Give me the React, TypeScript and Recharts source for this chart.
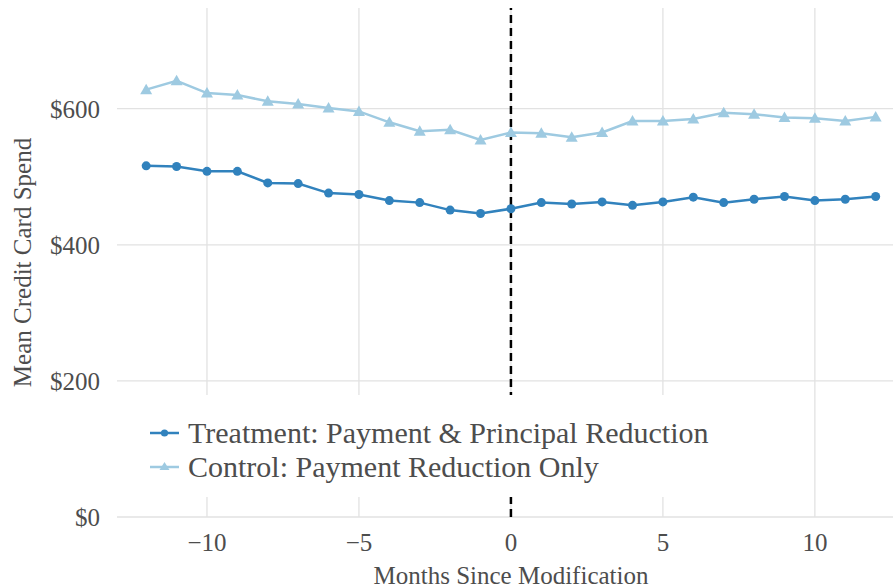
import { LineChart, Line, XAxis, YAxis, CartesianGrid, ReferenceLine, Legend } from 'recharts';

const months = [-12, -11, -10, -9, -8, -7, -6, -5, -4, -3, -2, -1, 0, 1, 2, 3, 4, 5, 6, 7, 8, 9, 10, 11, 12];
const treatment = [516, 515, 508, 508, 491, 490, 476, 474, 465, 462, 451, 446, 453, 462, 460, 463, 458, 463, 470, 462, 467, 471, 465, 467, 471];
const control = [628, 641, 623, 620, 611, 607, 601, 596, 580, 567, 569, 554, 565, 564, 558, 565, 582, 582, 585, 594, 592, 587, 586, 582, 588];
const xTicks = [-10, -5, 0, 5, 10];
const yTicks = [0, 200, 400, 600];
const seriesNames = ['Treatment: Payment & Principal Reduction', 'Control: Payment Reduction Only'];

const TREAT = '#3182bd';
const CTRL = '#9ecae1';
const TEXT = '#4d4d4d';
const FONT = '"Liberation Serif", "DejaVu Serif", serif';

const data = months.map((m, i) => ({ month: m, treatment: treatment[i], control: control[i] }));

const Triangle = (props: any) => {
  const { cx, cy, index } = props;
  if (cx == null || cy == null) return null;
  return (
    <polygon
      key={`tri-${index}`}
      points={`${cx},${cy - 6} ${cx - 6},${cy + 4.5} ${cx + 6},${cy + 4.5}`}
      fill={CTRL}
    />
  );
};

function LegendBox() {
  const rows = [
    { name: seriesNames[0], color: TREAT, shape: 'circle' },
    { name: seriesNames[1], color: CTRL, shape: 'triangle' }
  ];
  return (
    <div style={{ padding: '21px 0 0 22px', fontFamily: FONT }}>
      {rows.map(r => (
        <div key={r.name} style={{ display: 'flex', alignItems: 'center', height: 34 }}>
          <svg width={38} height={20} style={{ flex: 'none' }}>
            <line x1={0} y1={10} x2={29} y2={10} stroke={r.color} strokeWidth={2.5} />
            {r.shape === 'circle'
              ? <circle cx={14.5} cy={10} r={3.6} fill={r.color} />
              : <polygon points="14.5,5 9.5,13 19.5,13" fill={r.color} />}
          </svg>
          <span style={{ fontSize: 30, color: TEXT, whiteSpace: 'nowrap', lineHeight: '34px' }}>{r.name}</span>
        </div>
      ))}
    </div>
  );
}

export default function App() {
  return (
    <div style={{ position: 'absolute', left: 0, top: 0, width: 893, height: 588, background: '#fff', fontFamily: FONT }}>
      <LineChart width={893} height={588} data={data} margin={{ top: 8, right: 0, bottom: 0, left: 0 }}>
        <CartesianGrid stroke="#e2e2e2" strokeWidth={1.3} syncWithTicks />
        <XAxis
          dataKey="month"
          type="number"
          domain={[-12.96, 12.57]}
          allowDataOverflow
          ticks={xTicks}
          height={71}
          axisLine={false}
          tickLine={false}
          tickSize={0}
          tickMargin={16}
          tick={{ fill: TEXT, fontSize: 25, fontFamily: FONT }}
          tickFormatter={(v: number) => String(v).replace('-', '\u2212')}
          label={{ value: 'Months Since Modification', position: 'insideBottom', offset: 4, dx: 6, fill: TEXT, fontSize: 25, fontFamily: FONT }}
        />
        <YAxis
          type="number"
          domain={[0, 748]}
          allowDataOverflow
          ticks={yTicks}
          width={117}
          axisLine={false}
          tickLine={false}
          tickSize={0}
          tickMargin={17}
          tick={{ fill: TEXT, fontSize: 25, fontFamily: FONT }}
          tickFormatter={(v: number) => `$${v}`}
          label={{ value: 'Mean Credit Card Spend', angle: -90, position: 'insideLeft', offset: 22, fill: TEXT, fontSize: 25, fontFamily: FONT, style: { textAnchor: 'middle' } }}
        />
        <Line
          dataKey="treatment"
          name={seriesNames[0]}
          stroke={TREAT}
          strokeWidth={2.5}
          dot={{ r: 4.5, fill: TREAT, stroke: 'none' }}
          activeDot={false}
          isAnimationActive={false}
        />
        <Line
          dataKey="control"
          name={seriesNames[1]}
          stroke={CTRL}
          strokeWidth={2.5}
          dot={<Triangle />}
          activeDot={false}
          isAnimationActive={false}
        />
        <ReferenceLine x={0} stroke="#000" strokeWidth={2.5} strokeDasharray="8 5" />
        <Legend
          layout="vertical"
          align="center"
          verticalAlign="middle"
          content={() => <LegendBox />}
          wrapperStyle={{ left: 128, top: 395, width: 590, height: 102, background: '#fff' }}
        />
      </LineChart>
    </div>
  );
}
